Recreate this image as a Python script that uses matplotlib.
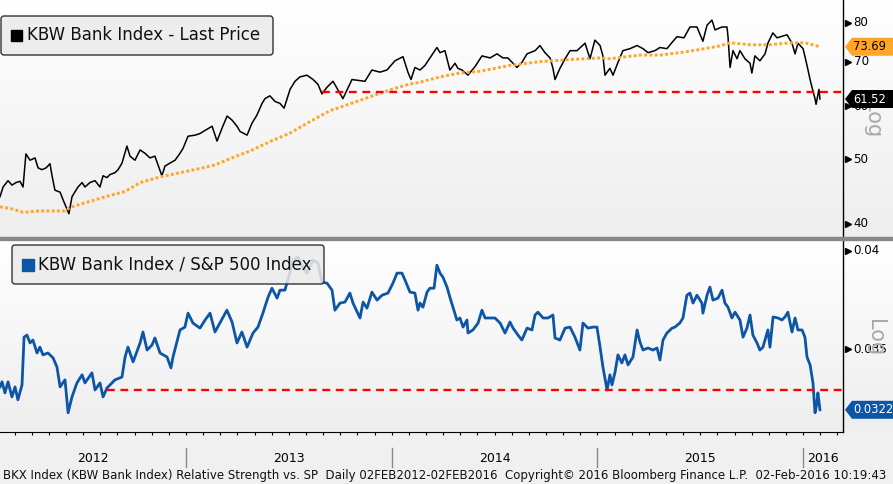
import matplotlib.pyplot as plt
import matplotlib.transforms as mtransforms
from matplotlib.patches import Polygon, Rectangle, FancyBboxPatch
from matplotlib.colors import LinearSegmentedColormap
from matplotlib.ticker import NullLocator
import numpy as np

W, H = 893, 484

# time is in fractional years

# KBW Bank Index last price
t_px = [2012.096, 2012.111, 2012.135, 2012.154, 2012.174, 2012.193, 2012.208, 2012.222, 2012.242, 2012.266,
        2012.281, 2012.300, 2012.320, 2012.339, 2012.349, 2012.363, 2012.388, 2012.407, 2012.431, 2012.446,
        2012.475, 2012.495, 2012.509, 2012.533, 2012.558, 2012.582, 2012.597, 2012.616, 2012.631, 2012.655,
        2012.670, 2012.689, 2012.713, 2012.728, 2012.752, 2012.777, 2012.801, 2012.825, 2012.849, 2012.883,
        2012.898, 2012.922, 2012.947, 2012.971, 2012.986, 2013.010, 2013.044, 2013.068, 2013.093, 2013.127,
        2013.151, 2013.175, 2013.200, 2013.224, 2013.248, 2013.263, 2013.297, 2013.321, 2013.345, 2013.370,
        2013.384, 2013.408, 2013.433, 2013.457, 2013.477, 2013.506, 2013.530, 2013.554, 2013.588, 2013.618,
        2013.642, 2013.661, 2013.686, 2013.715, 2013.763, 2013.807, 2013.870, 2013.904, 2013.943, 2013.977,
        2014.016, 2014.055, 2014.079, 2014.094, 2014.113, 2014.138, 2014.162, 2014.186, 2014.220, 2014.235,
        2014.259, 2014.269, 2014.283, 2014.308, 2014.322, 2014.342, 2014.371, 2014.405, 2014.439, 2014.478,
        2014.512, 2014.541, 2014.565, 2014.590, 2014.609, 2014.633, 2014.658, 2014.697, 2014.721, 2014.745,
        2014.770, 2014.784, 2014.794, 2014.818, 2014.843, 2014.867, 2014.901, 2014.940, 2014.964, 2014.988,
        2015.013, 2015.027, 2015.037, 2015.061, 2015.076, 2015.100, 2015.124, 2015.158, 2015.193, 2015.222,
        2015.246, 2015.280, 2015.304, 2015.338, 2015.363, 2015.387, 2015.421, 2015.450, 2015.484, 2015.513,
        2015.533, 2015.557, 2015.572, 2015.606, 2015.630, 2015.635, 2015.645, 2015.659, 2015.679, 2015.693,
        2015.717, 2015.742, 2015.751, 2015.766, 2015.790, 2015.815, 2015.829, 2015.853, 2015.873, 2015.922,
        2015.946, 2015.961, 2015.975, 2016.000, 2016.019, 2016.034, 2016.043, 2016.058, 2016.063, 2016.077,
        2016.082]
px_last = [43.9, 45.4, 46.4, 45.7, 46.1, 46.3, 45.4, 50.9, 49.8, 50.2,
           48.5, 48.2, 48.5, 49.2, 47.2, 44.9, 44.6, 43.1, 41.4, 43.9,
           45.4, 46.1, 45.4, 46.1, 46.4, 45.4, 47.2, 46.9, 47.4, 47.7,
           48.2, 49.3, 52.3, 50.5, 49.8, 51.6, 51.0, 50.2, 50.5, 47.2,
           48.8, 49.3, 49.8, 51.0, 51.9, 54.1, 54.3, 54.6, 55.2, 56.0,
           53.2, 55.6, 58.0, 57.2, 56.0, 55.0, 54.3, 56.6, 58.2, 60.6,
           61.6, 62.2, 61.0, 60.6, 59.6, 63.6, 65.4, 66.4, 66.8, 65.8,
           64.7, 62.6, 64.1, 65.4, 61.6, 65.8, 65.4, 68.0, 67.5, 68.0,
           70.2, 71.2, 67.5, 65.8, 68.6, 68.0, 69.1, 70.9, 73.5, 72.2,
           72.7, 70.7, 68.0, 69.6, 68.4, 68.0, 66.8, 68.8, 71.4, 70.9,
           71.9, 70.9, 70.9, 69.6, 68.6, 69.8, 71.9, 72.7, 74.0, 72.2,
           70.9, 68.4, 65.8, 68.4, 70.7, 72.7, 72.7, 74.6, 70.7, 75.4,
           74.0, 71.4, 66.8, 68.4, 66.8, 69.8, 72.7, 73.2, 74.0, 73.2,
           72.2, 72.7, 73.5, 73.2, 74.8, 76.3, 76.0, 78.9, 78.9, 75.1,
           79.4, 80.8, 78.1, 78.9, 78.9, 76.3, 68.6, 72.7, 70.7, 72.7,
           70.7, 69.6, 67.3, 71.4, 70.2, 71.9, 74.6, 77.3, 76.0, 76.8,
           74.6, 71.9, 74.6, 73.2, 69.1, 65.8, 64.1, 61.6, 60.4, 63.6,
           61.52]

# 200 day moving average
t_ma = [2012.096, 2012.154, 2012.208, 2012.290, 2012.363, 2012.412, 2012.436, 2012.533, 2012.631, 2012.704,
        2012.777, 2012.874, 2012.971, 2013.068, 2013.141, 2013.238, 2013.311, 2013.408, 2013.506, 2013.603,
        2013.700, 2013.797, 2013.895, 2013.992, 2014.089, 2014.138, 2014.235, 2014.332, 2014.429, 2014.575,
        2014.721, 2014.867, 2015.013, 2015.061, 2015.207, 2015.304, 2015.401, 2015.499, 2015.596, 2015.645,
        2015.742, 2015.839, 2015.936, 2016.009, 2016.082]
ma200 = [42.4, 42.1, 41.6, 41.8, 41.8, 41.8, 42.3, 43.2, 44.1, 44.7,
         46.1, 47.0, 47.7, 48.4, 49.0, 50.4, 51.4, 53.1, 54.7, 56.9,
         59.1, 60.5, 62.0, 63.5, 64.8, 65.2, 66.4, 67.3, 67.7, 69.1,
         70.0, 70.5, 70.9, 70.7, 71.6, 71.6, 72.2, 73.0, 73.9, 74.7,
         74.2, 74.2, 74.7, 74.7, 73.69]

# KBW Bank Index / S&P 500 Index
t_rel = [2012.096, 2012.106, 2012.120, 2012.135, 2012.154, 2012.169, 2012.183, 2012.203, 2012.213, 2012.227,
         2012.242, 2012.256, 2012.276, 2012.290, 2012.305, 2012.329, 2012.354, 2012.373, 2012.388, 2012.412,
         2012.427, 2012.446, 2012.470, 2012.495, 2012.509, 2012.543, 2012.558, 2012.582, 2012.597, 2012.616,
         2012.655, 2012.689, 2012.704, 2012.718, 2012.743, 2012.777, 2012.791, 2012.811, 2012.835, 2012.849,
         2012.874, 2012.908, 2012.927, 2012.937, 2012.971, 2012.995, 2013.010, 2013.034, 2013.068, 2013.093,
         2013.117, 2013.141, 2013.165, 2013.199, 2013.224, 2013.248, 2013.272, 2013.297, 2013.326, 2013.350,
         2013.374, 2013.399, 2013.418, 2013.443, 2013.457, 2013.481, 2013.506, 2013.520, 2013.545, 2013.564,
         2013.588, 2013.617, 2013.642, 2013.661, 2013.686, 2013.710, 2013.724, 2013.749, 2013.773, 2013.797,
         2013.812, 2013.846, 2013.861, 2013.880, 2013.904, 2013.929, 2013.953, 2013.982, 2014.006, 2014.026,
         2014.050, 2014.065, 2014.089, 2014.113, 2014.128,
         2014.138, 2014.152, 2014.172, 2014.186, 2014.206, 2014.220, 2014.235, 2014.249, 2014.269, 2014.283,
         2014.298, 2014.317, 2014.332, 2014.347, 2014.366, 2014.371, 2014.395, 2014.420, 2014.439, 2014.454,
         2014.478, 2014.502, 2014.527, 2014.551, 2014.575, 2014.590, 2014.614, 2014.633, 2014.658, 2014.682,
         2014.697, 2014.711, 2014.736, 2014.760, 2014.784, 2014.794, 2014.818, 2014.843, 2014.867, 2014.891,
         2014.915, 2014.930, 2014.954, 2014.979, 2014.998, 2015.013, 2015.027, 2015.047, 2015.061, 2015.071,
         2015.086, 2015.100, 2015.119, 2015.134, 2015.149, 2015.173, 2015.193, 2015.207, 2015.222, 2015.246,
         2015.270, 2015.290, 2015.304, 2015.319, 2015.338, 2015.363, 2015.377, 2015.401, 2015.416, 2015.435,
         2015.450, 2015.465, 2015.484, 2015.508, 2015.513, 2015.533, 2015.547, 2015.562, 2015.586, 2015.606,
         2015.620, 2015.635, 2015.654, 2015.669, 2015.693, 2015.708, 2015.727, 2015.742, 2015.756, 2015.776,
         2015.790, 2015.805, 2015.829, 2015.839, 2015.854, 2015.878, 2015.897, 2015.912, 2015.926, 2015.946,
         2015.961, 2015.975, 2015.995, 2016.009, 2016.019, 2016.034, 2016.048, 2016.058, 2016.067, 2016.072,
         2016.082]
rel = [0.03324, 0.03347, 0.03297, 0.03347, 0.03279, 0.03324, 0.03266, 0.03333, 0.03557, 0.03567,
       0.03529, 0.03543, 0.03481, 0.03509, 0.03472, 0.03481, 0.03458, 0.03415, 0.03324, 0.03356,
       0.03209, 0.03279, 0.03342, 0.03379, 0.03342, 0.03388, 0.03310, 0.03342, 0.03279, 0.03319,
       0.03356, 0.03369, 0.03462, 0.03509, 0.03439, 0.03529, 0.03582, 0.03495, 0.03519, 0.03553,
       0.03481, 0.03462, 0.03411, 0.03462, 0.03592, 0.03606, 0.03675, 0.03626, 0.03601, 0.03641,
       0.03675, 0.03582, 0.03626, 0.03690, 0.03631, 0.03529, 0.03582, 0.03509, 0.03577, 0.03606,
       0.03675, 0.03756, 0.03802, 0.03751, 0.03792, 0.03792, 0.03886, 0.03950, 0.03966, 0.03923,
       0.03881, 0.03950, 0.03934, 0.03834, 0.03828, 0.03792, 0.03690, 0.03726, 0.03731, 0.03777,
       0.03726, 0.03651, 0.03731, 0.03700, 0.03782, 0.03741, 0.03766, 0.03777, 0.03828, 0.03881,
       0.03881, 0.03844, 0.03782, 0.03777, 0.03690,
       0.03726, 0.03705, 0.03782, 0.03802, 0.03802, 0.03923, 0.03881, 0.03860, 0.03808, 0.03756,
       0.03705, 0.03641, 0.03651, 0.03606, 0.03641, 0.03577, 0.03592, 0.03626, 0.03690, 0.03651,
       0.03651, 0.03651, 0.03626, 0.03577, 0.03631, 0.03601, 0.03567, 0.03543, 0.03601, 0.03592,
       0.03666, 0.03680, 0.03651, 0.03651, 0.03666, 0.03553, 0.03543, 0.03601, 0.03606, 0.03557,
       0.03495, 0.03626, 0.03601, 0.03606, 0.03606, 0.03509, 0.03415, 0.03310, 0.03379, 0.03333,
       0.03392, 0.03472, 0.03434, 0.03472, 0.03425, 0.03462, 0.03592, 0.03533, 0.03495, 0.03505,
       0.03495, 0.03505, 0.03448, 0.03543, 0.03577, 0.03601, 0.03606, 0.03626, 0.03651, 0.03766,
       0.03777, 0.03726, 0.03766, 0.03726, 0.03675, 0.03766, 0.03808, 0.03741, 0.03751, 0.03792,
       0.03726, 0.03705, 0.03651, 0.03680, 0.03641, 0.03557, 0.03601, 0.03666, 0.03567, 0.03529,
       0.03495, 0.03509, 0.03592, 0.03509, 0.03656, 0.03651, 0.03641, 0.03656, 0.03680, 0.03582,
       0.03651, 0.03592, 0.03592, 0.03557, 0.03462, 0.03425, 0.03342, 0.03209, 0.03252, 0.03297,
       0.03222]

# red support lines
px_support, px_support_from = 63.1, 2013.66
rel_support, rel_support_from = 0.0331, 2012.616

px_ticks = [40, 50, 60, 70, 80]
px_labels = ['40', '50', '60', '70', '80']
rel_ticks = [0.035, 0.04]
rel_labels = ['0.035', '0.04']
years = [2012, 2013, 2014, 2015, 2016]
x0, x1 = 2012.096, 2016.194

footer = ('BKX Index (KBW Bank Index) Relative Strength vs. SP  Daily 02FEB2012-02FEB2016  '
          'Copyright\u00a9 2016 Bloomberg Finance L.P.  02-Feb-2016 10:19:43')

BLUE = '#0d55a7'
ORANGE = '#ffa528'
RED = '#ff0000'
ident = mtransforms.IdentityTransform()

fig = plt.figure(figsize=(W / 100, H / 100), dpi=100, facecolor='#f0f0f0')

# gradient backgrounds for the two panel rows
grad = np.linspace(0, 1, 256).reshape(-1, 1)
gcmap = LinearSegmentedColormap.from_list('g', ['#ffffff', '#eeeeee'])
for top, bot in [(0, 237), (240, 432)]:
    bg = fig.add_axes([0, (H - bot) / H, 1, (bot - top) / H], zorder=0)
    bg.imshow(grad, aspect='auto', cmap=gcmap, extent=[0, 1, 1, 0])
    bg.axis('off')

ax1 = fig.add_axes([0, (H - 237) / H, 843 / W, 237 / H], zorder=1, facecolor='none')
ax2 = fig.add_axes([0, (H - 432) / H, 843 / W, 192 / H], zorder=1, facecolor='none')

# top panel
ax1.plot(t_px, px_last, color='black', lw=1.1)
ax1.plot(t_ma, ma200, color=ORANGE, lw=2.1, ls=(0, (1, 0.8)))
ax1.hlines(px_support, px_support_from, x1, color=RED, lw=1.7, ls=(0, (3.3, 2.4)))
ax1.set_yscale('log')
ax1.set_ylim(38.2, 86.6)

# bottom panel
ax2.plot(t_rel, rel, color=BLUE, lw=2.0)
ax2.hlines(rel_support, rel_support_from, x1, color=RED, lw=1.7, ls=(0, (3.3, 2.4)))
ax2.set_yscale('log')
ax2.set_ylim(0.03126, 0.0406)

for ax in (ax1, ax2):
    ax.set_xlim(x0, x1)
    ax.yaxis.set_major_locator(NullLocator())
    ax.yaxis.set_minor_locator(NullLocator())
    for s in ('top', 'left', 'bottom'):
        ax.spines[s].set_visible(False)
    ax.spines['right'].set_color('black')
    ax.spines['right'].set_linewidth(1)

ax1.set_xticks([])
ax1.tick_params(axis='x', which='both', bottom=False, labelbottom=False)

ax2.spines['bottom'].set_visible(True)
ax2.spines['bottom'].set_color('black')
months = [y + m / 12 for y in range(2012, 2017) for m in range(12) if x0 < y + m / 12 < x1]
ax2.set_xticks([])
ax2.set_xticks(months, minor=True)
ax2.tick_params(axis='x', which='minor', direction='out', length=2.5, width=0.8, color='black',
                labelbottom=False)

# year separators and labels under the date axis
trx = mtransforms.blended_transform_factory(ax2.transData, ax2.transAxes)
for y in years:
    if x0 < y < x1:
        ax2.plot([y, y], [-16 / 192, -35 / 192], color='#8a8a8a', lw=1, transform=trx, clip_on=False)
    lo, hi = max(x0, y), min(x1, y + 1)
    ax2.text((lo + hi) / 2, -26 / 192, str(y), transform=trx, ha='center', va='center',
             fontsize=9, clip_on=False)


def right_ticks(ax, ticks, labels):
    tr = mtransforms.blended_transform_factory(ax.transAxes, ax.transData)
    for v, s in zip(ticks, labels):
        ax.plot([1.0058], [v], marker='>', ms=5, color='black', transform=tr, clip_on=False)
        ax.text(1.0125, v, s, transform=tr, fontsize=8.6, va='center', ha='left')


right_ticks(ax1, px_ticks, px_labels)
right_ticks(ax2, rel_ticks, rel_labels)

# "Log" scale markers
fig.text(872 / W, (H - 120) / H, 'Log', rotation=-90, fontsize=15, color='#a8a8a8',
         ha='center', va='center', zorder=2)
fig.text(875 / W, (H - 338) / H, 'Log', rotation=-90, fontsize=15, color='#a8a8a8',
         ha='center', va='center', zorder=2)


def tag(ax, t, v, text, fc, tc):
    yd = ax.transData.transform((t, v))[1]
    h = 9
    verts = [(845, yd), (852, yd + h), (893, yd + h), (893, yd - h), (852, yd - h)]
    fig.add_artist(Polygon(verts, closed=True, fc=fc, ec='none', transform=ident, zorder=5))
    fig.text(853 / W, yd / H, text, color=tc, fontsize=8.3, va='center', ha='left', zorder=6)


tag(ax1, t_ma[-1], ma200[-1], '73.69', ORANGE, 'black')
tag(ax1, t_px[-1], px_last[-1], '61.52', 'black', 'white')
tag(ax2, t_rel[-1], rel[-1], '0.0322', BLUE, 'white')

# separator between the panels
fig.add_artist(Rectangle((0, H - 240), W, 3, transform=ident, color='#888888', zorder=3))


def legend_box(bx0, by0, bx1, by1, sq, color, text, tx):
    fig.add_artist(FancyBboxPatch((bx0, H - by1), bx1 - bx0, by1 - by0,
                                  boxstyle='round,pad=0,rounding_size=3',
                                  fc=(0.92, 0.92, 0.92, 0.85), ec='#333333', lw=1,
                                  transform=ident, zorder=7))
    sx0, sy0, s = sq
    fig.add_artist(Rectangle((sx0, H - sy0 - s), s, s, transform=ident, color=color, zorder=8))
    fig.text(tx / W, (H - (by0 + by1) / 2) / H, text, fontsize=12, va='center', ha='left',
             color='#111111', zorder=8)


legend_box(1, 16, 273, 55, (11, 30, 11), 'black', 'KBW Bank Index - Last Price', 27)
legend_box(12, 245, 324, 284, (22, 259, 12), BLUE, 'KBW Bank Index / S&P 500 Index', 38)

fig.text(3 / W, (H - 476) / H, footer, fontsize=8.5, va='center', ha='left', color='#111111')

fig.savefig('out.png', dpi=100, facecolor=fig.get_facecolor())
